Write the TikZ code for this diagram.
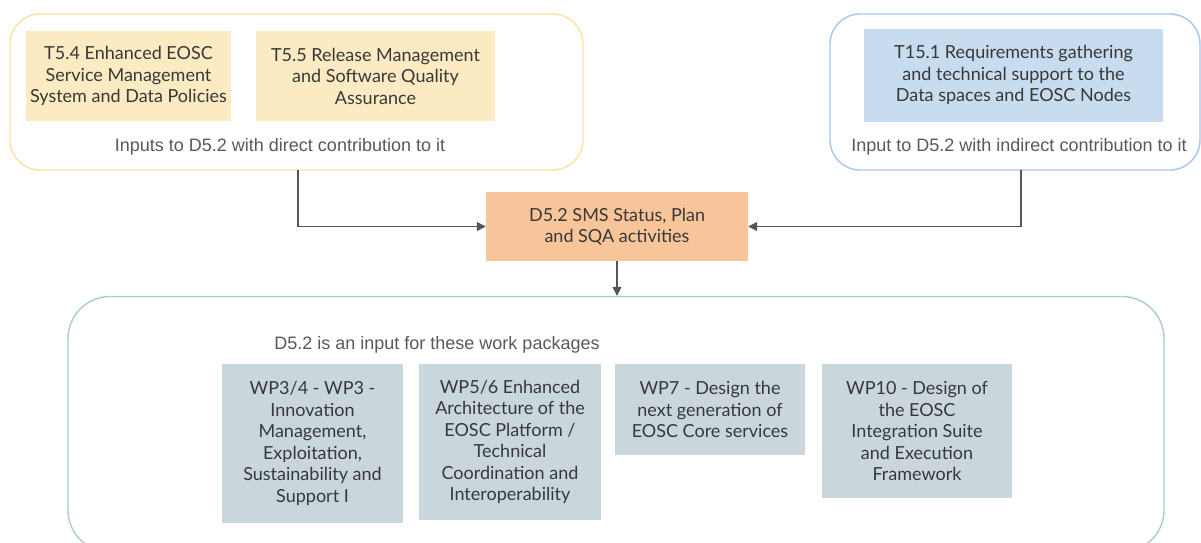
\documentclass[tikz,border=0pt]{standalone}
\usepackage{fontspec}
\setmainfont{Lato}
\newfontfamily\arialfont{Liberation Sans}
\usetikzlibrary{arrows.meta}
\definecolor{ycont}{HTML}{FCE1A4}
\definecolor{yfill}{HTML}{FCEAC3}
\definecolor{bcont}{HTML}{A8C4EC}
\definecolor{bfill}{HTML}{C8DCF0}
\definecolor{ofill}{HTML}{F8C49A}
\definecolor{gcont}{HTML}{A9CCD1}
\definecolor{gfill}{HTML}{C9D7DD}
\definecolor{txt}{HTML}{383838}
\definecolor{lbl}{HTML}{595959}
\definecolor{arrc}{HTML}{555555}
\tikzset{
  cont/.style={draw, line width=1.4pt, fill=white},
  boxtxt/.style={font=\fontsize{18}{21.5}\selectfont, text=txt, align=center, inner sep=0pt, anchor=center},
  lbltxt/.style={font=\arialfont\fontsize{18}{21}\selectfont, text=lbl, inner sep=0pt},
  arr/.style={draw=arrc, line width=1.3pt, -{Triangle[length=9pt,width=9pt]}},
}
\begin{document}
\begin{tikzpicture}[x=1pt,y=-1pt]
\useasboundingbox (0,0) rectangle (1201,542);
\clip (0,0) rectangle (1201,542);
% containers
\draw[cont, draw=ycont, rounded corners=30pt] (10,14) rectangle (583,170);
\node[inner sep=0pt, minimum width=573pt, minimum height=156pt] (yc) at (296.5,92) {};
\draw[cont, draw=bcont, rounded corners=30pt] (830,14) rectangle (1200,170);
\node[inner sep=0pt, minimum width=370pt, minimum height=156pt] (bc) at (1015,92) {};
\draw[cont, draw=gcont, rounded corners=42pt] (68,296.5) rectangle (1164,552);
\node[inner sep=0pt, minimum width=1096pt, minimum height=256pt] (gc) at (616,424) {};
% top boxes
\node[boxtxt, fill=yfill, minimum width=205pt, minimum height=90pt] (t54) at (128.5,76) {T5.4 Enhanced EOSC\\Service Management\\System and Data Policies};
\node[boxtxt, fill=yfill, minimum width=239pt, minimum height=90pt] (t55) at (375.5,76) {T5.5 Release Management\\and Software Quality\\Assurance};
\node[boxtxt, fill=bfill, minimum width=299pt, minimum height=93pt] (t151) at (1013.5,75) {T15.1 Requirements gathering\\and technical support to the\\Data spaces and EOSC Nodes};
\node[lbltxt] (l1) at (280,147) {Inputs to D5.2 with direct contribution to it};
\node[lbltxt] (l2) at (1019,147) {Input to D5.2 with indirect contribution to it};
% central box
\node[boxtxt, fill=ofill, minimum width=262pt, minimum height=69pt] (d52) at (617,226.5) {D5.2 SMS Status, Plan\\and SQA activities};
% bottom
\node[lbltxt] (l3) at (437,345) {D5.2 is an input for these work packages};
\node[boxtxt, fill=gfill, minimum width=181pt, minimum height=159pt] (wp34) at (312.5,443.5) {WP3/4 - WP3 -\\Innovation\\Management,\\Exploitation,\\Sustainability and\\Support I};
\node[boxtxt, fill=gfill, minimum width=182pt, minimum height=156pt] (wp56) at (510,442) {WP5/6 Enhanced\\Architecture of the\\EOSC Platform /\\Technical\\Coordination and\\Interoperability};
\node[boxtxt, fill=gfill, minimum width=190pt, minimum height=91pt] (wp7) at (710,409.5) {WP7 - Design the\\next generation of\\EOSC Core services};
\node[boxtxt, fill=gfill, minimum width=190pt, minimum height=134pt] (wp10) at (917,431) {WP10 - Design of\\the EOSC\\Integration Suite\\and Execution\\Framework};
% connectors
\coordinate (la) at (298,170);
\coordinate (ra) at (1021,170);
\draw[arr] (la) |- (d52.west);
\draw[arr] (ra) |- (d52.east);
\draw[arr] (d52.south) -- (d52.south |- gc.north);
\end{tikzpicture}
\end{document}
